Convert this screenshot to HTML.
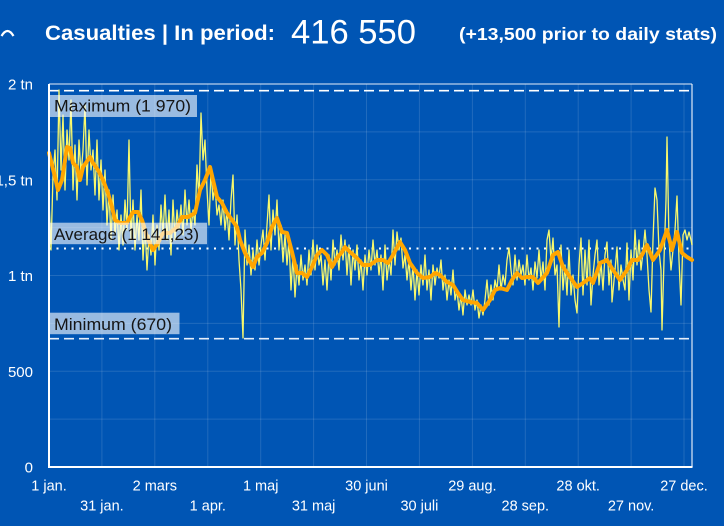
<!DOCTYPE html>
<html><head><meta charset="utf-8"><style>
html,body{margin:0;padding:0;background:#0055b4;}
svg{display:block;}
text{font-family:"Liberation Sans",Arial,sans-serif;}
</style></head><body>
<svg width="724" height="526" viewBox="0 0 724 526" xmlns="http://www.w3.org/2000/svg">
<rect width="724" height="526" fill="#0055b4"/>
<!-- header -->
<path d="M1.5,36 Q7.5,26 13.5,36" fill="none" stroke="#fff" stroke-width="2.2"/>
<text x="45" y="40" font-size="21" font-weight="bold" fill="#fff" textLength="230" lengthAdjust="spacingAndGlyphs">Casualties | In period:</text>
<text x="291" y="43.5" font-size="34" fill="#fff" textLength="125" lengthAdjust="spacingAndGlyphs">416 550</text>
<text x="459" y="40" font-size="17.5" font-weight="bold" fill="#fff" textLength="258" lengthAdjust="spacingAndGlyphs">(+13,500 prior to daily stats)</text>

<!-- grid -->
<g stroke="#ffffff" stroke-opacity="0.13" stroke-width="1">
<line x1="49" y1="131.9" x2="692" y2="131.9"/>
<line x1="49" y1="179.75" x2="692" y2="179.75"/>
<line x1="49" y1="227.6" x2="692" y2="227.6"/>
<line x1="49" y1="275.5" x2="692" y2="275.5"/>
<line x1="49" y1="323.4" x2="692" y2="323.4"/>
<line x1="49" y1="371.25" x2="692" y2="371.25"/>
<line x1="49" y1="419.1" x2="692" y2="419.1"/>
<line x1="101.9" y1="84" x2="101.9" y2="467"/>
<line x1="154.8" y1="84" x2="154.8" y2="467"/>
<line x1="207.8" y1="84" x2="207.8" y2="467"/>
<line x1="260.7" y1="84" x2="260.7" y2="467"/>
<line x1="313.6" y1="84" x2="313.6" y2="467"/>
<line x1="366.5" y1="84" x2="366.5" y2="467"/>
<line x1="419.4" y1="84" x2="419.4" y2="467"/>
<line x1="472.4" y1="84" x2="472.4" y2="467"/>
<line x1="525.3" y1="84" x2="525.3" y2="467"/>
<line x1="578.2" y1="84" x2="578.2" y2="467"/>
<line x1="631.1" y1="84" x2="631.1" y2="467"/>
<line x1="684" y1="84" x2="684" y2="467"/>
</g>
<!-- plot frame top/right -->
<line x1="49" y1="84" x2="692" y2="84" stroke="#ffffff" stroke-opacity="0.45" stroke-width="2"/>
<line x1="692" y1="84" x2="692" y2="467" stroke="#ffffff" stroke-opacity="0.7" stroke-width="1.5"/>

<!-- reference lines -->
<line x1="49" y1="90.7" x2="692" y2="90.7" stroke="#fff" stroke-width="1.6" stroke-dasharray="10,5"/>
<line x1="49" y1="248.5" x2="692" y2="248.5" stroke="#fff" stroke-width="2" stroke-dasharray="2,5.5"/>
<line x1="49" y1="338.7" x2="692" y2="338.7" stroke="#e6eefa" stroke-width="1.6" stroke-dasharray="10,5"/>

<!-- daily series -->
<polyline fill="none" stroke="#f8f86c" stroke-width="1.3" stroke-linejoin="round" points="49,200 51,250 53,175 55,150 57,200 59,90 61,170 63,115 65,190 67,130 69,160 71,100 73,190 75,145 77,200 79,140 81,175 83,150 85,105 87,185 89,130 91,170 93,150 95,195 97,140 99,200 101,160 103,210 105,170 107,225 109,190 111,240 113,195 115,235 117,210 119,250 121,215 123,245 125,200 127,230 129,140 131,240 133,200 135,250 137,215 139,240 141,190 143,260 145,225 147,270 149,235 151,255 153,215 155,265 157,225 159,250 161,205 163,235 165,195 167,240 169,210 171,255 173,200 175,240 177,210 179,230 181,205 183,235 185,190 187,225 189,200 191,230 193,210 195,225 197,165 199,200 201,113 203,160 205,140 207,190 209,225 211,170 213,200 215,185 217,215 219,205 221,225 223,200 225,230 227,210 229,240 231,200 233,175 235,245 237,215 239,260 241,290 243,338 245,230 247,265 249,245 251,275 253,250 255,270 257,240 259,265 261,245 263,230 265,260 267,225 269,195 271,250 273,210 275,235 277,200 279,250 281,225 283,262 285,235 287,265 289,240 291,290 293,255 295,297 297,265 299,285 301,255 303,280 305,265 307,285 309,250 311,275 313,240 315,270 317,245 319,265 321,255 323,285 325,260 327,290 329,255 331,280 333,240 335,265 337,250 339,270 341,235 343,260 345,240 347,275 349,245 351,285 353,250 355,270 357,245 359,280 361,260 363,290 365,255 367,275 369,250 371,270 373,240 375,265 377,250 379,275 381,255 383,290 385,245 387,280 389,260 391,275 393,230 395,265 397,232 399,250 401,238 403,268 405,255 407,280 409,260 411,290 413,265 415,300 417,270 419,295 421,265 423,285 425,255 427,290 429,270 431,300 433,265 435,285 437,268 439,278 441,260 443,290 445,275 447,300 449,280 451,295 453,270 455,300 457,290 459,310 461,295 463,315 465,290 467,305 469,295 471,305 473,290 475,310 477,300 479,318 481,305 483,315 485,300 487,280 489,305 491,285 493,300 495,280 497,290 499,265 501,290 503,275 505,285 507,260 509,248 511,270 513,285 515,255 517,280 519,260 521,275 523,265 525,285 527,255 529,280 531,268 533,290 535,262 537,278 539,250 541,280 543,262 545,290 547,240 549,230 551,260 553,238 555,275 557,265 559,327 561,245 563,290 565,265 567,295 569,250 571,295 573,275 575,300 577,313 579,265 581,238 583,295 585,250 587,285 589,240 591,305 593,275 595,255 597,240 599,285 601,262 603,290 605,255 607,242 609,285 611,260 612,302 615,270 617,247 619,290 621,265 623,280 625,290 627,243 629,300 631,250 633,280 635,230 637,265 639,240 641,270 643,252 645,230 647,255 649,290 651,312 653,240 655,188 657,200 659,250 661,270 662,330 664,260 666,200 667,137 669,240 671,270 673,250 675,230 677,196 679,260 681,305 683,235 685,230 687,240 689,232 691,240 692,245"/>

<!-- moving average -->
<polyline fill="none" stroke="#ffa500" stroke-width="4" stroke-linejoin="round" stroke-linecap="round" points="49,153 55,177 58,190 62,180 67,147 70,148 73,163 77,167 80,180 83,167 90,157 93,163 98,170 103,180 108,193 112,207 115,220 120,223 127,223 130,217 133,212 138,212 142,220 147,237 153,250 158,243 163,233 170,233 177,227 182,217 188,217 195,213 200,190 205,180 210,167 213,180 217,197 222,203 227,213 232,220 237,227 240,240 245,253 250,262 253,267 257,257 262,253 267,243 272,227 277,218 282,232 287,233 292,252 297,273 302,273 307,277 312,267 317,255 322,250 327,255 332,267 337,258 342,252 345,247 350,252 357,258 363,265 370,265 377,260 383,260 388,263 393,255 400,242 405,250 410,263 417,273 423,278 430,277 435,273 440,275 447,282 453,285 458,293 463,300 470,302 477,303 483,310 490,300 495,290 500,288 507,290 512,280 517,273 522,278 527,277 533,277 538,283 547,273 553,255 558,252 563,267 570,277 577,287 583,283 590,278 593,283 600,263 607,260 613,270 620,280 627,270 632,260 638,260 642,255 647,245 653,260 660,250 667,230 672,250 677,232 682,253 687,257 692,260"/>

<!-- label boxes -->
<rect x="49" y="95" width="148" height="22" fill="#ffffff" fill-opacity="0.6"/>
<text x="54" y="111.7" font-size="17" fill="#151515" textLength="137" lengthAdjust="spacingAndGlyphs">Maximum (1 970)</text>
<rect x="49" y="222.7" width="158" height="21.5" fill="#ffffff" fill-opacity="0.6"/>
<text x="54" y="240" font-size="17" fill="#151515" textLength="145" lengthAdjust="spacingAndGlyphs">Average (1 141,23)</text>
<rect x="49" y="312.7" width="130.5" height="21.5" fill="#ffffff" fill-opacity="0.6"/>
<text x="54" y="330" font-size="17" fill="#151515" textLength="118" lengthAdjust="spacingAndGlyphs">Minimum (670)</text>

<!-- axes -->
<line x1="49" y1="84" x2="49" y2="468" stroke="#fff" stroke-width="2"/>
<line x1="48" y1="467" x2="692.5" y2="467" stroke="#fff" stroke-width="2"/>

<!-- y labels -->
<g font-size="15" fill="#fff" text-anchor="end">
<text x="33" y="89.5">2 tn</text>
<text x="33" y="185.5">1,5 tn</text>
<text x="33" y="281">1 tn</text>
<text x="33" y="377">500</text>
<text x="33" y="472.5">0</text>
</g>
<!-- x labels -->
<g font-size="14.5" fill="#fff" text-anchor="middle">
<text x="49" y="490.5">1 jan.</text>
<text x="154.8" y="490.5">2 mars</text>
<text x="260.7" y="490.5">1 maj</text>
<text x="366.5" y="490.5">30 juni</text>
<text x="472.4" y="490.5">29 aug.</text>
<text x="578.2" y="490.5">28 okt.</text>
<text x="684" y="490.5">27 dec.</text>
<text x="101.9" y="510.5">31 jan.</text>
<text x="207.8" y="510.5">1 apr.</text>
<text x="313.6" y="510.5">31 maj</text>
<text x="419.4" y="510.5">30 juli</text>
<text x="525.3" y="510.5">28 sep.</text>
<text x="631.1" y="510.5">27 nov.</text>
</g>
</svg>
</body></html>
